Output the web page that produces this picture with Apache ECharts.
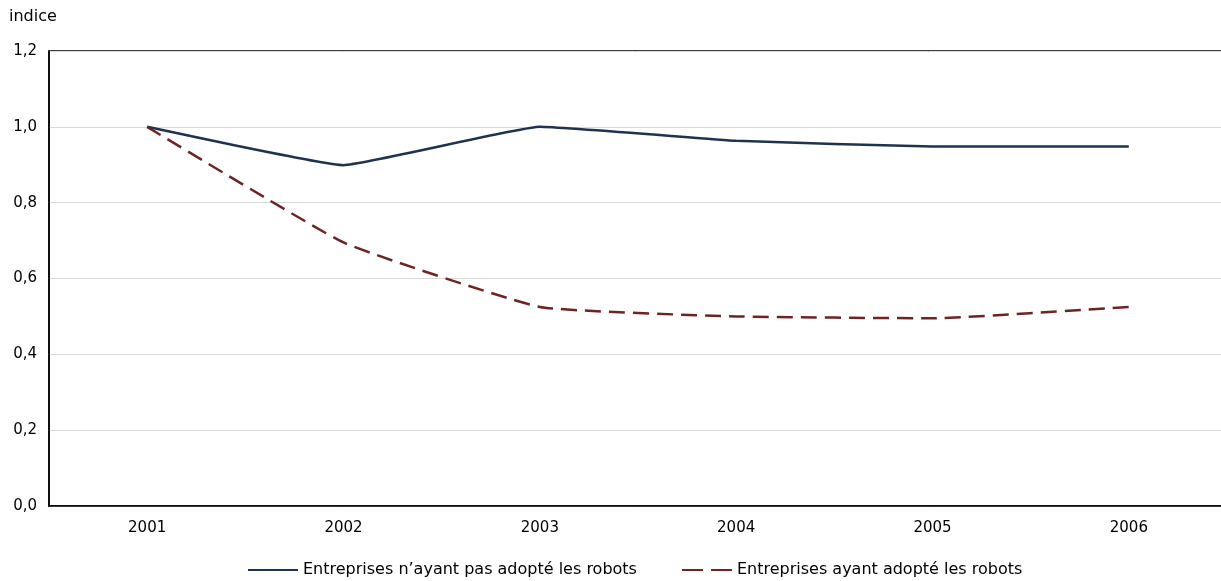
<!DOCTYPE html>
<html>
<head>
<meta charset="utf-8">
<script src="https://cdn.jsdelivr.net/npm/echarts@6/dist/echarts.min.js"></script>
<style>
  html, body { margin: 0; padding: 0; background: #fff; }
  #chart { width: 1221px; height: 581px; }
</style>
</head>
<body>
<div id="chart"></div>
<script>
// Years on the horizontal axis
const years = ['2001', '2002', '2003', '2004', '2005', '2006'];
// Index values (2001 = 1,0)
const nonAdopters = [1.0, 0.899, 1.0, 0.963, 0.948, 0.948];
const adopters = [1.0, 0.695, 0.525, 0.500, 0.495, 0.525];
const seriesNames = [
  'Entreprises n\u2019ayant pas adopté les robots',
  'Entreprises ayant adopté les robots'
];

const FONT = 'DejaVu Sans';
const chart = echarts.init(document.getElementById('chart'), null, { renderer: 'canvas' });

chart.setOption({
  animation: false,
  backgroundColor: '#ffffff',
  textStyle: { fontFamily: FONT },
  grid: {
    left: 49, top: 51, width: 1178, bottom: 75,
    outerBoundsMode: 'none', containLabel: false,
    show: true, borderColor: '#000', borderWidth: 1.5
  },
  graphic: [{
    type: 'text', left: 9, top: 9,
    style: { text: 'indice', font: '16px "DejaVu Sans"', fill: '#000' }
  }],
  legend: {
    top: 557, left: 242,
    itemWidth: 50, itemHeight: 12, itemGap: 44,
    itemStyle: { opacity: 0 },
    textStyle: { fontFamily: FONT, fontSize: 16, color: '#000' },
    data: [
      { name: seriesNames[0] },
      { name: seriesNames[1], lineStyle: { type: [21, 8] } }
    ]
  },
  xAxis: {
    type: 'category', data: years, boundaryGap: true,
    axisLine: { lineStyle: { color: '#000', width: 1.5 } },
    axisTick: { alignWithLabel: true, inside: true, length: 4, lineStyle: { color: '#000' } },
    axisLabel: { color: '#000', fontSize: 15, fontFamily: FONT, margin: 15 },
    splitLine: { show: false }
  },
  yAxis: {
    type: 'value', min: 0, max: 1.2, interval: 0.2,
    axisLine: { show: true, lineStyle: { color: '#000', width: 1.5 } },
    axisTick: { show: false },
    axisLabel: {
      color: '#000', fontSize: 15, fontFamily: FONT, margin: 12,
      formatter: v => v.toFixed(1).replace('.', ',')
    },
    splitLine: { lineStyle: { color: '#d9d9d9', width: 1 } }
  },
  series: [
    {
      name: seriesNames[0], type: 'line', data: nonAdopters,
      smooth: 0.1, symbol: 'none',
      itemStyle: { color: '#1f3350' },
      lineStyle: { color: '#1f3350', width: 2.5 }
    },
    {
      name: seriesNames[1], type: 'line', data: adopters,
      smooth: 0.12, symbol: 'none',
      itemStyle: { color: '#6e2424' },
      lineStyle: { color: '#6e2424', width: 2.5, type: [16, 8] }
    }
  ]
});
</script>
</body>
</html>
